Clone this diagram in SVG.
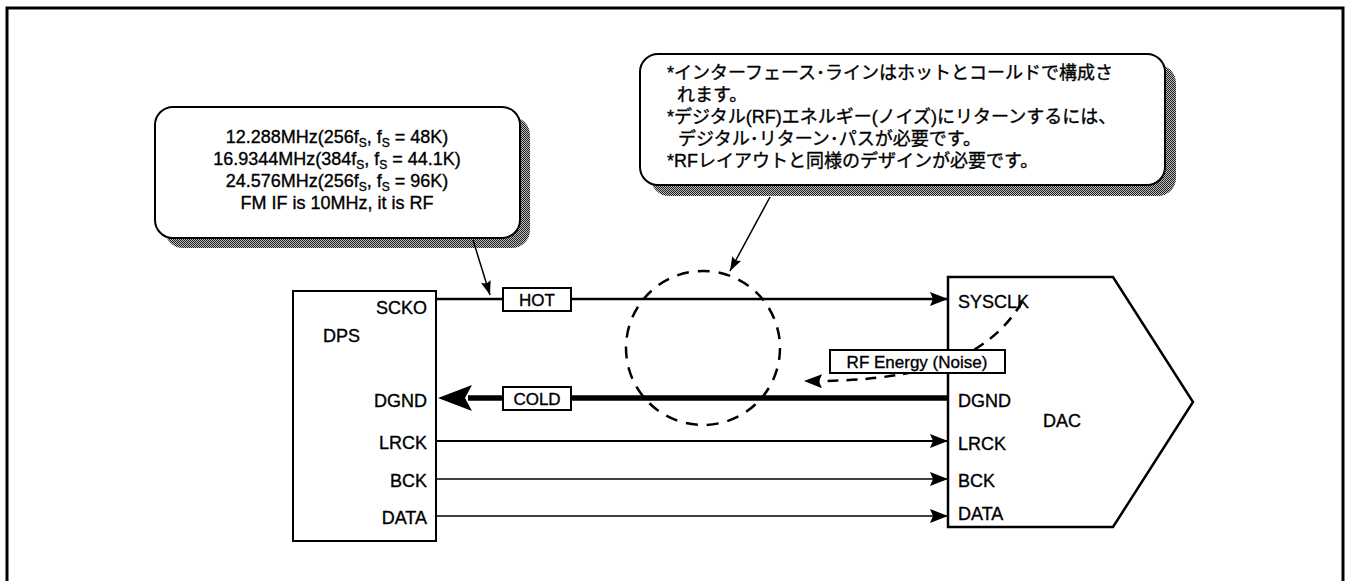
<svg xmlns="http://www.w3.org/2000/svg" width="1349" height="581" viewBox="0 0 1349 581">
<style>
text{font-family:"Liberation Sans","Noto Sans CJK JP",Arial,sans-serif;fill:#000;stroke:#000;stroke-width:0.35}
.lbl{font-size:18px}
.cl{font-size:18px}
.jp{font-size:18px;font-family:"Liberation Sans","Noto Sans CJK JP",sans-serif}
.sub{font-size:12px}
.box{fill:#fff;stroke:#000;stroke-width:2}
.sig{fill:none;stroke:#000}
</style>
<defs>
<pattern id="dots" width="2" height="2" patternUnits="userSpaceOnUse">
<rect width="2" height="2" fill="#bbb"/>
<rect width="1" height="1" fill="#222"/>
<rect x="1" y="1" width="1" height="1" fill="#222"/>
</pattern>
<marker id="ah" markerUnits="userSpaceOnUse" markerWidth="20" markerHeight="16" refX="18" refY="7" orient="auto">
<path d="M0,0 L18,7 L0,14 L3,7 Z" fill="#000"/>
</marker>
<marker id="ahs" markerUnits="userSpaceOnUse" markerWidth="16" markerHeight="12" refX="14" refY="5" orient="auto">
<path d="M0,0 L14,5 L0,10 L2,5 Z" fill="#000"/>
</marker>
</defs>
<rect width="1349" height="581" fill="#fff"/>
<path d="M7,590 V8 H1343 V590" fill="none" stroke="#000" stroke-width="3"/>

<g id="callout-freq">
<rect x="165" y="117" width="365" height="131" rx="18" fill="url(#dots)"/>
<rect x="155" y="107" width="365" height="131" rx="18" class="box"/>
<text class="cl" text-anchor="middle" x="337" y="143">12.288MHz(256f<tspan class="sub" dy="4">S</tspan><tspan dy="-4">, f</tspan><tspan class="sub" dy="4">S</tspan><tspan dy="-4"> = 48K)</tspan></text>
<text class="cl" text-anchor="middle" x="337" y="165">16.9344MHz(384f<tspan class="sub" dy="4">S</tspan><tspan dy="-4">, f</tspan><tspan class="sub" dy="4">S</tspan><tspan dy="-4"> = 44.1K)</tspan></text>
<text class="cl" text-anchor="middle" x="337" y="187">24.576MHz(256f<tspan class="sub" dy="4">S</tspan><tspan dy="-4">, f</tspan><tspan class="sub" dy="4">S</tspan><tspan dy="-4"> = 96K)</tspan></text>
<text class="cl" text-anchor="middle" x="337" y="209">FM IF is 10MHz, it is RF</text>
</g>

<g id="callout-note">
<rect x="651" y="65" width="525" height="131" rx="18" fill="url(#dots)"/>
<rect x="640" y="54" width="525" height="131" rx="18" class="box"/>
<text class="jp" x="667" y="79">*インターフェース･ラインはホットとコールドで構成さ</text>
<text class="jp" x="677" y="101">れます。</text>
<text class="jp" x="667" y="123">*デジタル(RF)エネルギー(ノイズ)にリターンするには、</text>
<text class="jp" x="678" y="145">デジタル･リターン･パスが必要です。</text>
<text class="jp" x="667" y="167">*RFレイアウトと同様のデザインが必要です。</text>
</g>

<g id="dps">
<rect x="293" y="291" width="143" height="250" class="box"/>
<text class="lbl" x="323" y="342">DPS</text>
<text class="lbl" text-anchor="end" x="427" y="314">SCKO</text>
<text class="lbl" text-anchor="end" x="427" y="407">DGND</text>
<text class="lbl" text-anchor="end" x="427" y="449">LRCK</text>
<text class="lbl" text-anchor="end" x="427" y="487">BCK</text>
<text class="lbl" text-anchor="end" x="427" y="524">DATA</text>
</g>

<g id="dac">
<path d="M948,277 H1113 L1193,402 L1113,527 H948 Z" fill="#fff" stroke="#000" stroke-width="2.5"/>
<text class="lbl" x="958" y="308">SYSCLK</text>
<text class="lbl" x="958" y="407">DGND</text>
<text class="lbl" x="1043" y="427">DAC</text>
<text class="lbl" x="958" y="450">LRCK</text>
<text class="lbl" x="958" y="487">BCK</text>
<text class="lbl" x="958" y="520">DATA</text>
</g>

<g id="connectors">
<line x1="436" y1="299" x2="948" y2="299" class="sig" stroke-width="2.5" marker-end="url(#ah)"/>
<line x1="948" y1="398" x2="468" y2="398" class="sig" stroke-width="5.5"/>
<path d="M438,398 L472,385 L465,398 L472,411 Z" fill="#000"/>
<line x1="436" y1="441" x2="948" y2="441" class="sig" stroke-width="2" marker-end="url(#ah)"/>
<line x1="436" y1="479" x2="948" y2="479" class="sig" stroke-width="1.5" marker-end="url(#ah)"/>
<line x1="436" y1="516" x2="948" y2="516" class="sig" stroke-width="1.5" marker-end="url(#ah)"/>
<line x1="473" y1="240" x2="490" y2="295" class="sig" stroke-width="1.5" marker-end="url(#ahs)"/>
<line x1="770" y1="197" x2="730" y2="271" class="sig" stroke-width="1.5" marker-end="url(#ahs)"/>
<path d="M1022,302 Q995,348 935,367 Q880,382 804,381" class="sig" stroke-width="2.5" stroke-dasharray="11 8" marker-end="url(#ah)"/>
</g>

<g id="loop">
<circle cx="703" cy="348" r="77" fill="none" stroke="#000" stroke-width="2.5" stroke-dasharray="12 9"/>
</g>

<g id="hot-label">
<rect x="503" y="288" width="68" height="23" class="box" stroke-width="1.5"/>
<text class="lbl" text-anchor="middle" x="537" y="306" style="font-size:17px">HOT</text>
</g>
<g id="cold-label">
<rect x="503" y="387" width="68" height="23" class="box" stroke-width="1.5"/>
<text class="lbl" text-anchor="middle" x="537" y="405" style="font-size:17px">COLD</text>
</g>
<g id="rf-label">
<rect x="830" y="350" width="175" height="23" class="box" stroke-width="1.5"/>
<text class="lbl" text-anchor="middle" x="917" y="368" style="font-size:17px">RF Energy (Noise)</text>
</g>
</svg>
